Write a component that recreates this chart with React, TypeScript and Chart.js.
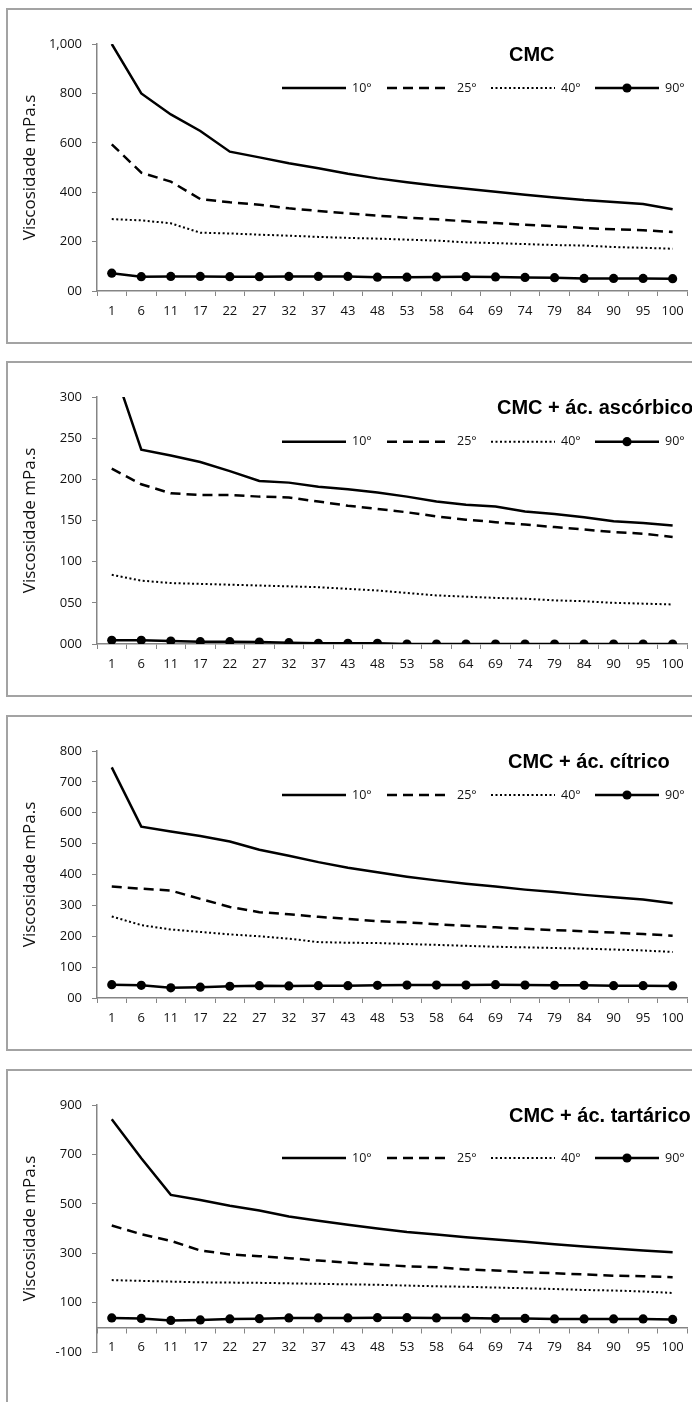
import React, { useEffect, useRef } from "react";
import { Chart, registerables } from "chart.js";

Chart.register(...registerables);

// ---------- DATA ----------
const categories = ["1", "6", "11", "17", "22", "27", "32", "37", "43", "48", "53", "58", "64", "69", "74", "79", "84", "90", "95", "100"];
const seriesNames = ["10°", "25°", "40°", "90°"];
const yAxisTitle = "Viscosidade mPa.s";

// CMC
const cmc10 = [1000, 800, 715, 648, 564, 541, 517, 497, 475, 456, 440, 426, 414, 402, 390, 379, 368, 360, 352, 331];
const cmc25 = [594, 479, 443, 372, 359, 349, 335, 324, 314, 305, 297, 290, 282, 275, 268, 262, 255, 250, 246, 239];
const cmc40 = [291, 286, 274, 236, 233, 228, 224, 219, 215, 212, 208, 204, 197, 194, 190, 186, 184, 178, 175, 171];
const cmc90 = [72, 58, 59, 59, 58, 58, 59, 59, 59, 56, 56, 57, 58, 57, 55, 54, 51, 51, 51, 50];
const cmcTicks = [0, 200, 400, 600, 800, 1000];
const cmcTickLabels = ["00", "200", "400", "600", "800", "1,000"];

// CMC + ác. ascórbico
const asc10 = [342, 236, 229, 221, 210, 198, 196, 191, 188, 184, 179, 173, 169, 167, 161, 158, 154, 149, 147, 144];
const asc25 = [213, 194, 183, 181, 181, 179, 178, 173, 168, 164, 160, 155, 151, 148, 145, 142, 139, 136, 134, 130];
const asc40 = [84, 77, 74, 73, 72, 71, 70, 69, 67, 65, 62, 59, 57.5, 56, 55, 53, 52, 50, 49, 48];
const asc90 = [4.5, 4.5, 3.6, 2.8, 2.8, 2.4, 1.6, 0.8, 0.8, 0.8, 0, 0, 0, 0, 0, 0, 0, 0, 0, 0];
const ascTicks = [0, 50, 100, 150, 200, 250, 300];
const ascTickLabels = ["000", "050", "100", "150", "200", "250", "300"];

// CMC + ác. cítrico
const cit10 = [747, 555, 539, 525, 507, 480, 461, 440, 422, 407, 393, 381, 370, 361, 351, 343, 334, 326, 319, 307];
const cit25 = [361, 354, 348, 321, 295, 278, 271, 263, 256, 249, 245, 239, 234, 229, 224, 220, 216, 212, 207, 202];
const cit40 = [264, 236, 222, 214, 206, 200, 192, 181, 179, 178, 175, 172, 169, 166, 164, 162, 160, 157, 154, 149];
const cit90 = [43, 41, 33, 35, 38, 40, 39, 40, 40, 41, 42, 42, 42, 43, 42, 41, 41, 40, 40, 39];
const citTicks = [0, 100, 200, 300, 400, 500, 600, 700, 800];
const citTickLabels = ["00", "100", "200", "300", "400", "500", "600", "700", "800"];

// CMC + ác. tartárico
const tar10 = [842, 684, 536, 515, 492, 473, 449, 431, 415, 400, 386, 376, 365, 355, 346, 336, 327, 319, 311, 304];
const tar25 = [412, 377, 350, 311, 295, 288, 280, 270, 262, 254, 247, 243, 234, 230, 223, 219, 214, 209, 207, 203];
const tar40 = [191, 188, 185, 182, 181, 180, 178, 176, 174, 172, 169, 166, 164, 161, 158, 155, 151, 149, 145, 139];
const tar90 = [38, 36, 28, 30, 34, 35, 38, 38, 38, 39, 39, 38, 38, 36, 36, 34, 34, 34, 34, 32];
const tarTicks = [-100, 100, 300, 500, 700, 900];
const tarTickLabels = ["-100", "100", "300", "500", "700", "900"];

const titles = ["CMC", "CMC + ác. ascórbico", "CMC + ác. cítrico", "CMC + ác. tartárico"];

// ---------- LAYOUT / STYLE ----------
const PAGE_W = 692;
const PAGE_H = 1402;
const CANVAS_H = 336;
const PLOT_TOP_IN_CANVAS = 36;
const PLOT_H = 247;
const PLOT_LEFT = 97;
const PLOT_RIGHT = 688;
const AXIS_COLOR = "#858585";
const TEXT_COLOR = "#111";
const FONT = "'Open Sans', 'Noto Sans', sans-serif";
const TICK_SIZE = 13;

const panelLayout = [
  { top: 8, titleX: 509, legendDy: 44, zeroAxis: false },
  { top: 361, titleX: 497, legendDy: 44.7, zeroAxis: false },
  { top: 715, titleX: 508, legendDy: 44, zeroAxis: false },
  { top: 1069, titleX: 509, legendDy: 53, zeroAxis: true },
];
const legendStarts = [282, 387, 491, 595];
const legendSampleLen = 64;

const panels = [
  { title: titles[0], series: [cmc10, cmc25, cmc40, cmc90], ticks: cmcTicks, tickLabels: cmcTickLabels },
  { title: titles[1], series: [asc10, asc25, asc40, asc90], ticks: ascTicks, tickLabels: ascTickLabels },
  { title: titles[2], series: [cit10, cit25, cit40, cit90], ticks: citTicks, tickLabels: citTickLabels },
  { title: titles[3], series: [tar10, tar25, tar40, tar90], ticks: tarTicks, tickLabels: tarTickLabels },
];

const seriesStyles = [
  { borderWidth: 2.5, borderDash: [], pointRadius: 0 },
  { borderWidth: 2.5, borderDash: [10, 6], pointRadius: 0 },
  { borderWidth: 2, borderDash: [2, 2.5], pointRadius: 0 },
  { borderWidth: 2.5, borderDash: [], pointRadius: 4.6 },
];

const overlayPlugin = {
  id: "panelOverlay",
  afterDraw(chart: any, _args: any, opts: any) {
    const ctx = chart.ctx;
    const top = chart.chartArea.top;
    ctx.save();
    // title
    ctx.font = "bold 20px 'Liberation Sans', Arial, sans-serif";
    ctx.fillStyle = "#000";
    ctx.textAlign = "left";
    ctx.textBaseline = "middle";
    ctx.fillText(opts.title, opts.titleX, top + 11.5);
    // legend
    const y = top + opts.legendDy;
    chart.data.datasets.forEach((d: any, i: number) => {
      const x0 = legendStarts[i];
      ctx.save();
      ctx.strokeStyle = d.borderColor;
      ctx.lineWidth = d.borderWidth;
      ctx.setLineDash(d.borderDash || []);
      ctx.lineCap = "butt";
      ctx.beginPath();
      ctx.moveTo(x0, y);
      ctx.lineTo(x0 + legendSampleLen, y);
      ctx.stroke();
      if (d.pointRadius > 0) {
        ctx.setLineDash([]);
        ctx.beginPath();
        ctx.arc(x0 + legendSampleLen / 2, y, d.pointRadius, 0, Math.PI * 2);
        ctx.fillStyle = d.pointBackgroundColor;
        ctx.fill();
      }
      ctx.fillStyle = TEXT_COLOR;
      ctx.font = `12.5px ${FONT}`;
      ctx.textAlign = "left";
      ctx.textBaseline = "middle";
      ctx.fillText(d.label, x0 + legendSampleLen + 6, y);
      ctx.restore();
    });
    ctx.restore();
  },
};

function Panel({ index }: { index: number }) {
  const ref = useRef<HTMLCanvasElement | null>(null);
  const p = panels[index];
  const lay = panelLayout[index];

  useEffect(() => {
    if (!ref.current) return;
    const xHeight = 30;
    const chart = new Chart(ref.current, {
      type: "line",
      data: {
        labels: categories,
        datasets: p.series.map((values, i) => ({
          label: seriesNames[i],
          data: values,
          borderColor: "#000",
          backgroundColor: "#000",
          pointBackgroundColor: "#000",
          pointBorderWidth: 0,
          pointHoverRadius: seriesStyles[i].pointRadius,
          borderWidth: seriesStyles[i].borderWidth,
          borderDash: seriesStyles[i].borderDash,
          pointRadius: seriesStyles[i].pointRadius,
          tension: 0,
          fill: false,
        })),
      },
      options: {
        animation: false,
        responsive: false,
        devicePixelRatio: 1,
        events: [],
        layout: {
          padding: {
            top: PLOT_TOP_IN_CANVAS,
            left: 0,
            right: PAGE_W - PLOT_RIGHT,
            bottom: lay.zeroAxis
              ? CANVAS_H - PLOT_TOP_IN_CANVAS - PLOT_H
              : CANVAS_H - PLOT_TOP_IN_CANVAS - PLOT_H - xHeight,
          },
        },
        plugins: {
          legend: { display: false },
          tooltip: { enabled: false },
          title: { display: false },
          panelOverlay: { title: p.title, titleX: lay.titleX, legendDy: lay.legendDy },
        } as any,
        scales: {
          x: {
            type: "category",
            position: lay.zeroAxis ? ({ y: 0 } as any) : "bottom",
            offset: true,
            grid: {
              display: true,
              offset: true,
              drawOnChartArea: false,
              drawTicks: true,
              tickLength: 5,
              color: AXIS_COLOR,
              lineWidth: 1,
            },
            border: { display: true, color: AXIS_COLOR, width: 1.5 },
            ticks: {
              color: TEXT_COLOR,
              font: { family: FONT, size: TICK_SIZE },
              padding: 7,
              maxRotation: 0,
              autoSkip: false,
            },
            afterFit: (scale: any) => {
              if (!lay.zeroAxis) scale.height = xHeight;
              scale.paddingLeft = 0;
              scale.paddingRight = 0;
            },
          },
          y: {
            type: "linear",
            min: p.ticks[0],
            max: p.ticks[p.ticks.length - 1],
            grid: {
              display: true,
              drawOnChartArea: false,
              drawTicks: true,
              tickLength: 5,
              color: AXIS_COLOR,
              lineWidth: 1,
            },
            border: { display: true, color: AXIS_COLOR, width: 1.5 },
            afterBuildTicks: (scale: any) => {
              scale.ticks = p.ticks.map((v) => ({ value: v }));
            },
            ticks: {
              color: TEXT_COLOR,
              font: { family: FONT, size: TICK_SIZE },
              padding: 10,
              callback: (_v: any, i: number) => p.tickLabels[i],
            },
            title: {
              display: true,
              text: yAxisTitle,
              color: TEXT_COLOR,
              font: { family: FONT, size: 17 },
              padding: { top: 20, bottom: 0 },
            },
            afterFit: (scale: any) => {
              scale.width = PLOT_LEFT;
              scale.paddingTop = 0;
              scale.paddingBottom = 0;
            },
          },
        },
      },
      plugins: [overlayPlugin],
    } as any);
    return () => chart.destroy();
  }, [index]);

  return (
    <>
      <div
        style={{
          position: "absolute",
          left: 6,
          top: lay.top,
          width: 760,
          height: index === 3 ? 500 : 336,
          border: "2px solid #a3a3a3",
          boxSizing: "border-box",
        }}
      />
      <canvas
        ref={ref}
        width={PAGE_W}
        height={CANVAS_H}
        style={{ position: "absolute", left: 0, top: lay.top, width: PAGE_W, height: CANVAS_H }}
      />
    </>
  );
}

export default function App() {
  return (
    <div
      style={{
        position: "absolute",
        left: 0,
        top: 0,
        width: PAGE_W,
        height: PAGE_H,
        overflow: "hidden",
        background: "#fff",
      }}
    >
      {panels.map((_, i) => (
        <Panel key={i} index={i} />
      ))}
    </div>
  );
}
